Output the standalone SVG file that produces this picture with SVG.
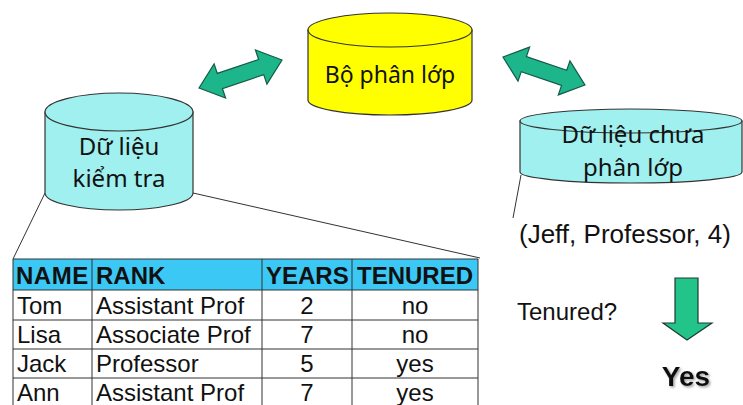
<svg xmlns="http://www.w3.org/2000/svg" width="743" height="405" viewBox="0 0 743 405">
<style>
.cyl{stroke:#333;stroke-width:1.2}
.yel{fill:#ffff00}
.cy{fill:#9ff0ee}
.lbl{font-family:"Noto Sans","DejaVu Sans",sans-serif;font-size:24px;fill:#111;text-anchor:middle}
.arr{fill:#1db58a;stroke:#145a48;stroke-width:1.2;stroke-linejoin:miter}
.t{font-family:"Liberation Sans",Arial,sans-serif;font-size:24px;fill:#111}
.th{font-family:"Liberation Sans",Arial,sans-serif;font-size:24px;font-weight:bold;fill:#111}
.grid{stroke:#333;stroke-width:1;fill:none}
.ln{stroke:#333;stroke-width:1;fill:none}
</style>
<defs>
<filter id="sh" x="-20%" y="-20%" width="140%" height="140%">
<feDropShadow dx="1.5" dy="1.5" stdDeviation="1" flood-color="#888" flood-opacity="0.8"/>
</filter>
</defs>
<rect width="743" height="405" fill="#ffffff"/>

<g id="connectors">
<path class="arr" transform="translate(199,88) rotate(-18.6)" d="M0,0 L22,-18 L22,-8 L65.6,-8 L65.6,-18 L87.6,0 L65.6,18 L65.6,8 L22,8 L22,18 Z"/>
<path class="arr" transform="translate(503,57) rotate(18.85)" d="M0,0 L22,-18 L22,-8 L64.6,-8 L64.6,-18 L86.6,0 L64.6,18 L64.6,8 L22,8 L22,18 Z"/>
<line class="ln" x1="45" y1="193" x2="13" y2="259"/>
<line class="ln" x1="193" y1="193" x2="480" y2="258"/>
<line class="ln" x1="521" y1="175" x2="513" y2="218"/>
<path d="M675,278 L698,278 L698,323 L712,323 L687,340 L663,323 L675,323 Z" fill="#22c48a" stroke="#1f3b30" stroke-width="1.2"/>
</g>

<g id="classifier">
<path class="cyl yel" d="M308,30 L308,100 A82,15 0 0 0 472,100 L472,30 Z"/>
<ellipse class="cyl yel" cx="390" cy="30" rx="82" ry="17"/>
<text class="lbl" x="390" y="83" style="font-size:23px">Bộ phân lớp</text>
</g>

<g id="test-data">
<path class="cyl cy" d="M45,112 L45,193 A74,17 0 0 0 193,193 L193,112 Z"/>
<ellipse class="cyl cy" cx="119" cy="112" rx="74" ry="19"/>
<text class="lbl" x="119" y="155">Dữ liệu</text>
<text class="lbl" x="119" y="187">kiểm tra</text>
</g>

<g id="unclassified-data">
<path class="cyl cy" d="M520,121 L520,172 A111,11 0 0 0 742,172 L742,121 Z"/>
<ellipse class="cyl cy" cx="631" cy="121" rx="111" ry="12"/>
<text class="lbl" x="633" y="143">Dữ liệu chưa</text>
<text class="lbl" x="633" y="176">phân lớp</text>
</g>

<g id="table">
<rect x="13" y="259" width="465" height="31" fill="#3cc8f5"/>
<rect x="13" y="290" width="465" height="120" fill="#ffffff"/>
<path class="grid" d="M13,259 H478 M13,290 H478 M13,320 H478 M13,349 H478 M13,378 H478 M13,259 V410 M478,259 V410 M92,259 V410 M262,259 V410 M352,259 V410"/>
<text class="th" x="16" y="284" style="letter-spacing:0.5px">NAME</text>
<text class="th" x="96" y="284">RANK</text>
<text class="th" x="266" y="284">YEARS</text>
<text class="th" x="357" y="284">TENURED</text>
<text class="t" x="17" y="314">Tom</text>
<text class="t" x="96" y="314">Assistant Prof</text>
<text class="t" x="307" y="314" text-anchor="middle">2</text>
<text class="t" x="415" y="314" text-anchor="middle">no</text>
<text class="t" x="17" y="343">Lisa</text>
<text class="t" x="96" y="343">Associate Prof</text>
<text class="t" x="307" y="343" text-anchor="middle">7</text>
<text class="t" x="415" y="343" text-anchor="middle">no</text>
<text class="t" x="17" y="372">Jack</text>
<text class="t" x="96" y="372">Professor</text>
<text class="t" x="307" y="372" text-anchor="middle">5</text>
<text class="t" x="415" y="372" text-anchor="middle">yes</text>
<text class="t" x="17" y="401">Ann</text>
<text class="t" x="96" y="401">Assistant Prof</text>
<text class="t" x="307" y="401" text-anchor="middle">7</text>
<text class="t" x="415" y="401" text-anchor="middle">yes</text>
</g>

<g id="query">
<text class="t" x="519" y="243" style="font-size:26px">(Jeff, Professor, 4)</text>
<text class="t" x="517" y="320">Tenured?</text>
<text x="686" y="386" text-anchor="middle" font-family="Liberation Sans,Arial,sans-serif" font-size="28" font-weight="bold" fill="#111" filter="url(#sh)">Yes</text>
</g>
</svg>
